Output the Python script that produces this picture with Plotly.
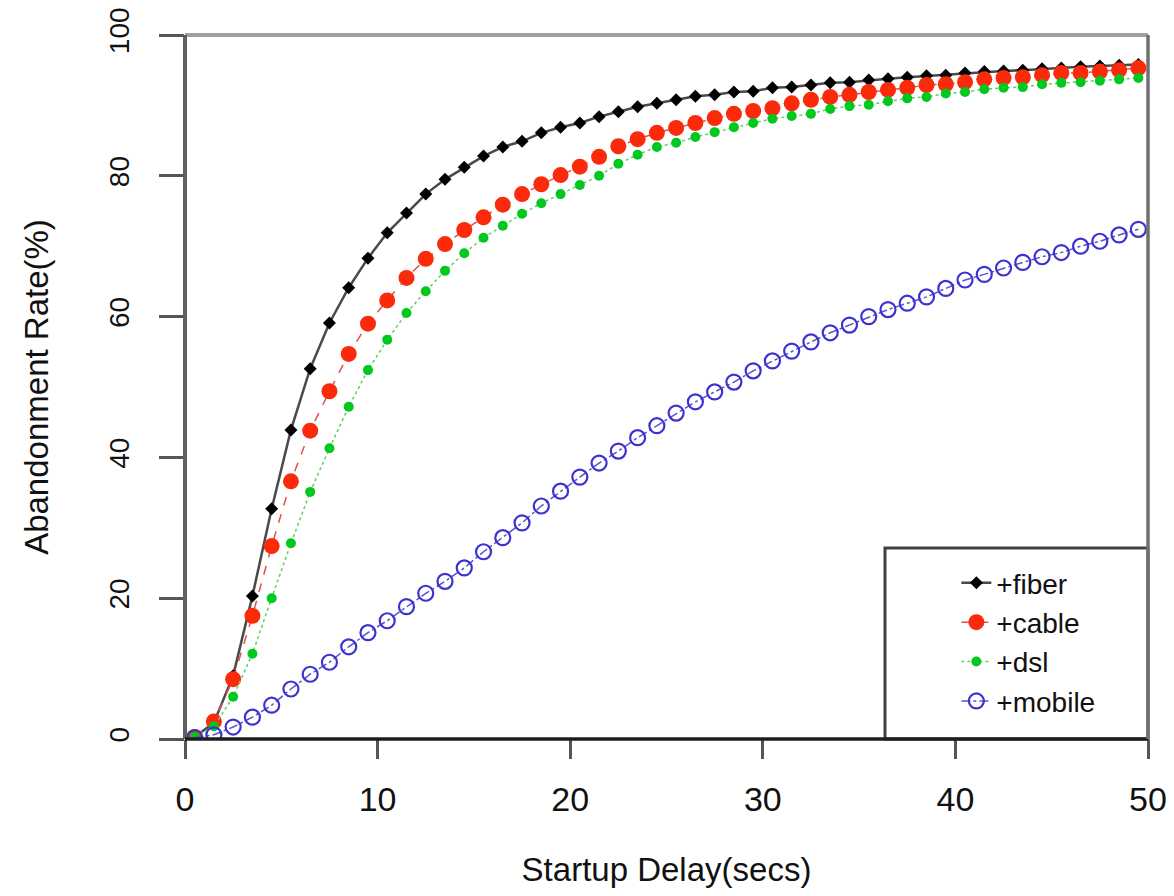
import plotly.graph_objects as go

delay = [0.5 + i for i in range(50)]

fiber = [0.3, 2.3, 9.0, 20.3, 32.7, 43.9, 52.6, 59.1, 64.1, 68.3,
         71.9, 74.7, 77.4, 79.5, 81.2, 82.8, 84.1, 84.9, 86.1, 86.9,
         87.5, 88.4, 89.1, 89.8, 90.3, 90.8, 91.3, 91.5, 91.9, 92.0,
         92.5, 92.6, 92.9, 93.2, 93.3, 93.6, 93.8, 94.0, 94.2, 94.3,
         94.6, 94.8, 94.9, 95.0, 95.2, 95.3, 95.5, 95.6, 95.7, 95.8]

cable = [0.3, 2.5, 8.5, 17.5, 27.4, 36.6, 43.8, 49.4, 54.7, 59.0,
         62.3, 65.5, 68.2, 70.3, 72.3, 74.1, 75.9, 77.4, 78.8, 80.1,
         81.3, 82.7, 84.2, 85.2, 86.1, 86.8, 87.5, 88.2, 88.8, 89.2,
         89.6, 90.3, 90.8, 91.2, 91.5, 91.9, 92.2, 92.5, 92.9, 93.0,
         93.3, 93.7, 93.9, 94.0, 94.3, 94.6, 94.6, 94.8, 95.0, 95.3]

dsl = [0.3, 1.8, 6.0, 12.1, 20.0, 27.8, 35.1, 41.3, 47.2, 52.4,
       56.7, 60.5, 63.6, 66.5, 69.0, 71.2, 72.9, 74.6, 76.1, 77.4,
       78.7, 80.0, 81.7, 83.0, 84.1, 84.7, 85.5, 86.2, 86.9, 87.5,
       88.1, 88.5, 88.8, 89.5, 89.9, 90.1, 90.6, 91.0, 91.2, 91.7,
       91.9, 92.3, 92.5, 92.6, 93.0, 93.2, 93.3, 93.5, 93.7, 93.9]

mobile = [0.2, 0.6, 1.7, 3.1, 4.8, 7.1, 9.2, 10.9, 13.1, 15.1,
          16.8, 18.8, 20.7, 22.4, 24.3, 26.6, 28.6, 30.7, 33.1, 35.2,
          37.2, 39.2, 40.9, 42.8, 44.5, 46.3, 47.9, 49.3, 50.7, 52.3,
          53.7, 55.1, 56.4, 57.7, 58.8, 60.0, 61.0, 61.9, 62.8, 64.0,
          65.2, 66.0, 66.9, 67.7, 68.5, 69.1, 70.0, 70.7, 71.6, 72.4]

x_ticks = [0, 10, 20, 30, 40, 50]
y_ticks = [0, 20, 40, 60, 80, 100]

FONT = "Liberation Sans, Arial, sans-serif"

fig = go.Figure()

fig.add_trace(go.Scatter(
    x=delay, y=fiber, name="+fiber", mode="lines+markers",
    line=dict(color="#4a4a4a", width=2.5, dash="solid"),
    marker=dict(symbol="diamond", size=10, color="#000000"),
))
fig.add_trace(go.Scatter(
    x=delay, y=cable, name="+cable", mode="lines+markers",
    line=dict(color="#e05050", width=1.5, dash="dash"),
    marker=dict(symbol="circle", size=16, color="#fa2a0a"),
))
fig.add_trace(go.Scatter(
    x=delay, y=dsl, name="+dsl", mode="lines+markers",
    line=dict(color="#60d060", width=1.5, dash="dot"),
    marker=dict(symbol="circle", size=10, color="#00c81e"),
))
fig.add_trace(go.Scatter(
    x=delay, y=mobile, name="+mobile", mode="lines+markers",
    line=dict(color="#5a50d8", width=1.5, dash="dashdot"),
    marker=dict(symbol="circle-open", size=15, color="#3c32d0",
                line=dict(width=2.2, color="#3c32d0")),
))

fig.update_layout(
    width=1158, height=880, autosize=False,
    margin=dict(l=177, r=18, t=27, b=149, autoexpand=False),
    paper_bgcolor="white", plot_bgcolor="white",
    font=dict(family=FONT, size=34, color="#111111"),
    showlegend=True,
    legend=dict(
        x=0.801, y=0.257, xanchor="left", yanchor="top",
        bgcolor="rgba(0,0,0,0)", borderwidth=0,
        font=dict(family=FONT, size=28, color="#111111"),
        tracegroupgap=0, itemwidth=30,
    ),
    xaxis=dict(
        range=[0, 50], tickmode="array", tickvals=x_ticks,
        ticktext=[str(v) for v in x_ticks], automargin=False,
        ticks="outside", ticklen=19, tickwidth=3, tickcolor="#555555",
        showgrid=False, zeroline=False, showline=False,
        tickfont=dict(size=34), ticklabelstandoff=11, ticklabeloverflow="allow",
        title=dict(text="Startup Delay(secs)", font=dict(size=33), standoff=61),
    ),
    yaxis=dict(
        range=[0, 100], tickmode="array", tickvals=y_ticks,
        ticktext=[str(v) for v in y_ticks], automargin=False,
        ticks="outside", ticklen=25, tickwidth=3, tickcolor="#555555",
        showgrid=False, zeroline=False, showline=False,
        tickangle=-90, tickfont=dict(size=28), ticklabelstandoff=19,
        ticklabeloverflow="allow",
        title=dict(text="Abandonment Rate(%)", font=dict(size=33), standoff=45),
    ),
    shapes=[
        # plot frame
        dict(type="line", xref="paper", yref="paper", x0=0, x1=1, y0=1, y1=1,
             line=dict(color="#a0a0a0", width=4), layer="above"),
        dict(type="line", xref="paper", yref="paper", x0=0, x1=0, y0=0, y1=1,
             line=dict(color="#606060", width=4), layer="above"),
        dict(type="line", xref="paper", yref="paper", x0=0, x1=1, y0=0, y1=0,
             line=dict(color="#1e1e1e", width=3.5), layer="above"),
        dict(type="line", xref="paper", yref="paper", x0=1, x1=1, y0=0, y1=1,
             line=dict(color="#707070", width=3.5), layer="above"),
        # legend box
        dict(type="rect", xref="paper", yref="paper",
             x0=(885 - 185) / 963, x1=1.0, y0=0, y1=(739 - 548) / 704,
             line=dict(color="#404040", width=3), fillcolor="white", layer="below"),
    ],
)

fig.write_html("out.html")
